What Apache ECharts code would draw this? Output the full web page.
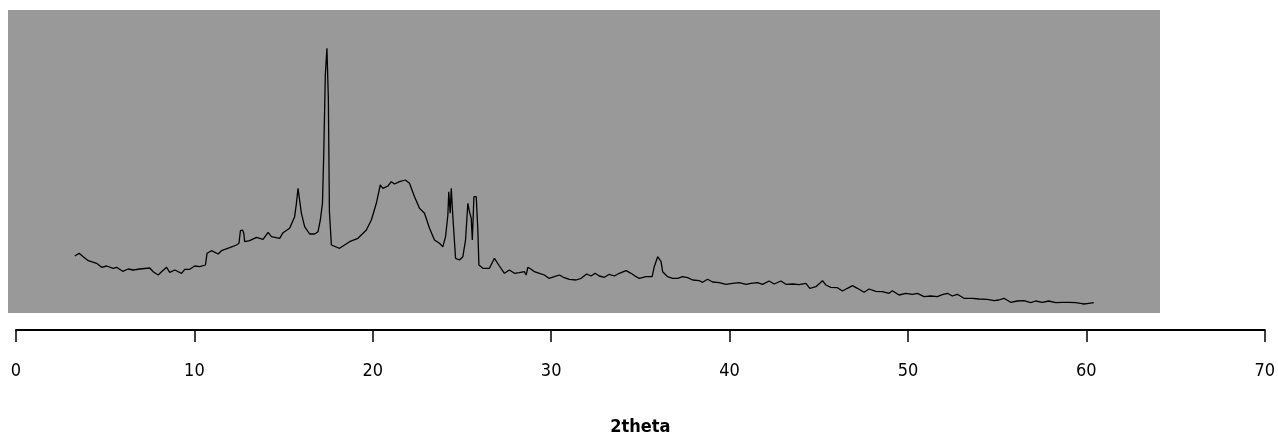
<!DOCTYPE html>
<html>
<head>
<meta charset="utf-8">
<title>2theta</title>
<script src="https://cdn.jsdelivr.net/npm/echarts@6/dist/echarts.min.js"></script>
<style>
  html, body { margin: 0; padding: 0; background: #fff; }
  #chart { width: 1278px; height: 448px; }
</style>
</head>
<body>
<div id="chart"></div>
<script>
// diffraction pattern (intensity in arbitrary units)
const twoTheta = [
  3.30, 3.54, 3.77, 4.05, 4.52, 4.80, 5.08, 5.45, 5.64, 5.98, 6.29, 6.57, 6.94, 7.50, 7.69, 7.97,
  8.16, 8.44, 8.62, 8.90, 9.28, 9.46, 9.74, 10.02, 10.30, 10.62, 10.71, 10.96, 11.33, 11.52, 11.98, 12.36,
  12.50, 12.58, 12.70, 12.77, 12.82, 13.10, 13.48, 13.85, 14.13, 14.32, 14.78, 14.97, 15.34, 15.62, 15.72, 15.81,
  15.90, 16.00, 16.18, 16.46, 16.74, 16.93, 17.06, 17.18, 17.25, 17.34, 17.43, 17.51, 17.57, 17.68, 18.14, 18.70,
  19.17, 19.64, 19.92, 20.20, 20.42, 20.57, 20.85, 21.04, 21.22, 21.50, 21.82, 22.06, 22.34, 22.62, 22.90, 23.18,
  23.46, 23.74, 23.93, 24.08, 24.21, 24.26, 24.34, 24.40, 24.49, 24.64, 24.86, 25.05, 25.20, 25.33, 25.42, 25.52,
  25.58, 25.67, 25.80, 25.89, 25.95, 26.17, 26.54, 26.82, 27.10, 27.38, 27.66, 27.94, 28.22, 28.50, 28.60, 28.69,
  28.88, 29.06, 29.34, 29.62, 29.87, 30.18, 30.46, 30.74, 31.02, 31.40, 31.68, 31.99, 32.24, 32.46, 32.70, 32.98,
  33.26, 33.54, 33.82, 34.20, 34.48, 34.76, 34.94, 35.32, 35.66, 35.78, 35.97, 36.16, 36.25, 36.53, 36.81, 37.09,
  37.37, 37.65, 37.93, 38.30, 38.49, 38.77, 39.05, 39.42, 39.80, 40.17, 40.54, 40.92, 41.20, 41.29, 41.57, 41.85,
  42.22, 42.50, 42.88, 43.16, 43.53, 43.90, 44.28, 44.50, 44.84, 45.21, 45.40, 45.68, 46.05, 46.33, 46.61, 46.89,
  47.17, 47.54, 47.82, 48.20, 48.57, 48.94, 49.13, 49.50, 49.88, 50.25, 50.53, 50.90, 51.28, 51.65, 51.93, 52.21,
  52.49, 52.77, 53.14, 53.61, 53.98, 54.45, 54.82, 55.10, 55.38, 55.76, 56.13, 56.50, 56.88, 57.16, 57.53, 57.90,
  58.28, 58.65, 59.02, 59.40, 59.68, 59.86, 60.14, 60.42
];
const intensity = [
  74, 76.7, 73.3, 69.3, 66.7, 62.7, 64, 61.7, 62.7, 58.7, 61, 60, 61, 62, 58.3, 55,
  58.3, 62.7, 57.7, 60, 56.7, 60.7, 60.7, 64, 63.3, 65, 76.7, 79.3, 76, 79.3, 82.3, 85,
  86.7, 99.3, 100, 96.7, 88.3, 89.3, 92.7, 90.7, 97.7, 93.3, 91.7, 97.3, 101.7, 113.3, 126.7, 141.7,
  140, 116.7, 103.3, 96, 96, 98.3, 110, 126.7, 175, 255, 281.7, 231.7, 118.3, 85, 81.7, 88.3,
  91.7, 100, 110, 126.7, 145, 141.7, 144, 148.3, 146, 148.3, 150, 146.7, 133.3, 121.7, 116.7, 101.7,
  90, 86.7, 83.3, 93.3, 115, 138.3, 116.7, 141.7, 113.3, 71.7, 70, 73.3, 90, 126.7, 118.3, 111.7,
  90, 133.3, 133.3, 100, 65, 61.7, 61.7, 71.7, 64, 56.7, 60, 56.7, 57.3, 58.3, 55, 62.7,
  60.7, 58.3, 56.7, 55, 51.7, 53.3, 55, 52.3, 50.7, 50, 51.7, 56, 54, 56.7, 54, 52.7,
  55.7, 54, 56.7, 59.3, 56.7, 53.3, 51.7, 53.3, 53.3, 63.3, 73.3, 68.3, 58.3, 53.3, 51.7, 51.7,
  53.3, 52.3, 50, 49.3, 47.7, 50.7, 48, 47.3, 45.7, 46.7, 47.3, 45.7, 46.7, 44.7, 47.3, 45.7,
  49, 46, 49, 45.7, 46, 45.3, 46.7, 41.7, 43.3, 49.3, 45, 42.7, 42.3, 39, 41.7, 44.3,
  41.7, 37.7, 41, 38.7, 38.3, 36.7, 39.3, 35, 36.7, 35.7, 36.7, 33.3, 34, 33.3, 35.3, 36.7,
  34, 35.7, 31.7, 31.7, 31, 30.7, 29.3, 30, 31.7, 27.7, 29, 29.3, 27.3, 29, 27.7, 29,
  27.3, 27.7, 27.7, 27.3, 26.7, 26, 26.7, 27.3
];
const xTicks = [0, 10, 20, 30, 40, 50, 60, 70];
const xTitle = '2theta';

const chart = echarts.init(document.getElementById('chart'));
// narrow face like the original; the 'condensed' keyword goes into the canvas font string
const font = "'DejaVu Sans Condensed', 'DejaVu Sans', sans-serif";

chart.setOption({
  animation: false,
  backgroundColor: '#ffffff',
  grid: [
    // data grid, its bottom is the visible axis line
    { left: 16, right: 12, top: 10, bottom: 118 },
    // grey plot area (does not line up with the axis, as in the original)
    { left: 8, top: 10, width: 1152, height: 303, show: true, backgroundColor: '#999999', borderWidth: 0 }
  ],
  xAxis: [
    {
      type: 'value',
      gridIndex: 0,
      min: xTicks[0],
      max: xTicks[xTicks.length - 1],
      interval: 10,
      name: xTitle,
      nameLocation: 'middle',
      nameGap: 88,
      nameTextStyle: { color: '#000', fontFamily: font, fontSize: 18, fontWeight: 'bold condensed' },
      axisLine: { show: true, onZero: false, lineStyle: { color: '#000', width: 2 } },
      axisTick: { show: true, inside: false, length: 12, lineStyle: { color: '#000', width: 1.5 } },
      axisLabel: { color: '#000', fontFamily: font, fontSize: 18, fontWeight: 'normal condensed', margin: 32 },
      splitLine: { show: false }
    },
    { type: 'value', gridIndex: 1, show: false, min: 0, max: 1 }
  ],
  yAxis: [
    { type: 'value', gridIndex: 0, show: false, min: 0, max: 320 },
    { type: 'value', gridIndex: 1, show: false, min: 0, max: 1 }
  ],
  series: [{
    type: 'line',
    xAxisIndex: 0,
    yAxisIndex: 0,
    data: twoTheta.map((t, i) => [t, intensity[i]]),
    showSymbol: false,
    symbol: 'none',
    lineStyle: { color: '#000', width: 1.3 },
    z: 5
  }]
});
</script>
</body>
</html>
